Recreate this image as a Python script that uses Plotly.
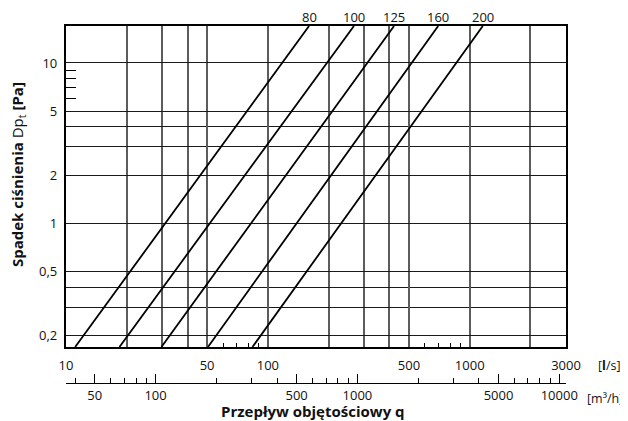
import numpy as np
import plotly.graph_objects as go

# ---- data ----
diameters = [80, 100, 125, 160, 200]
dp_edges = [0.17, 17.0]                       # Dp [Pa] at bottom / top edge of the plot
q_at_bottom = [11.1, 18.4, 29.7, 50.5, 83.9]   # l/s where each line leaves the bottom edge
q_at_top = [160, 267, 422, 698, 1161]          # l/s where each line reaches the top edge

x_label_vals = [10, 50, 100, 500, 1000, 3000]
x_grid_extra = [20, 30, 40, 200, 300, 400, 2000]
x_small_ticks = [60, 70, 80, 90, 600, 700, 800, 900]
y_label_vals = [0.2, 0.5, 1, 2, 5, 10]
y_label_text = ['0,2', '0,5', '1', '2', '5', '10']
y_grid_extra = [0.3, 0.4, 3, 4]
y_small_ticks = [6, 7, 8, 9]
m3h_major = [50, 100, 500, 1000, 5000, 10000]
m3h_minor = [40, 60, 70, 80, 90, 200, 300, 400, 600, 700, 800, 900,
             2000, 3000, 4000, 6000, 7000, 8000, 9000]
LS_TO_M3H = 3.6

FONT = "Open Sans"
TXT = "#111"
fig = go.Figure()

for d, qb, qt in zip(diameters, q_at_bottom, q_at_top):
    fig.add_trace(go.Scatter(x=[qb, qt], y=dp_edges, mode="lines",
                             line=dict(color="black", width=1.8),
                             showlegend=False, hoverinfo="skip"))
    fig.add_annotation(x=np.log10(qt), xref="x", y=1, yref="paper", yshift=9,
                       text=str(d), showarrow=False, xanchor="center", yanchor="middle",
                       font=dict(family=FONT, size=13, color=TXT))

# invisible traces carrying the helper axes
fig.add_trace(go.Scatter(x=[100, 1000], y=[1, 1], xaxis="x2", yaxis="y",
                         mode="markers", marker=dict(opacity=0),
                         showlegend=False, hoverinfo="skip"))
fig.add_trace(go.Scatter(x=[100, 1000], y=[1, 1], xaxis="x3", yaxis="y2",
                         mode="markers", marker=dict(opacity=0),
                         showlegend=False, hoverinfo="skip"))

xmin, xmax = 10, 3000
xr = [np.log10(xmin), np.log10(xmax)]
yr = [np.log10(dp_edges[0]), np.log10(dp_edges[1])]

fig.update_layout(
    width=620, height=413,
    margin=dict(l=58, r=62.3, t=18, b=38.3),
    paper_bgcolor="white", plot_bgcolor="white",
    font=dict(family=FONT, size=13, color=TXT),
    xaxis=dict(type="log", range=xr, anchor="y",
               showline=True, mirror=True, linecolor="black", linewidth=2.2,
               showgrid=True, gridcolor="#5c5c5c", gridwidth=1.6,
               tickmode="array", tickvals=x_label_vals,
               ticktext=[str(v) for v in x_label_vals],
               ticks="", zeroline=False, automargin=False, ticklabelstandoff=5,
               minor=dict(tickmode="array", tickvals=x_grid_extra, ticks="",
                          showgrid=True, gridcolor="#5c5c5c", gridwidth=1.6)),
    xaxis3=dict(type="log", range=xr, anchor="y", overlaying="x", side="bottom",
                showline=False, showgrid=False, zeroline=False, automargin=False,
                tickmode="array", tickvals=x_small_ticks, showticklabels=False,
                ticks="inside", ticklen=4, tickwidth=1.2, tickcolor="black"),
    xaxis2=dict(type="log", range=[np.log10(xmin * LS_TO_M3H), np.log10(xmax * LS_TO_M3H)],
                anchor="free", position=0, overlaying="x", side="bottom",
                showline=True, linecolor="black", linewidth=1.3,
                showgrid=False, zeroline=False, automargin=False,
                tickmode="array", tickvals=m3h_major,
                ticktext=[str(v) for v in m3h_major],
                ticks="inside", ticklen=9, tickwidth=1.2, tickcolor="black",
                minor=dict(tickmode="array", tickvals=m3h_minor, ticks="inside",
                           ticklen=4.5, tickwidth=1.2, tickcolor="black", showgrid=False)),
    yaxis=dict(type="log", range=yr, domain=[0.1009, 1], anchor="x",
               showline=True, mirror=True, linecolor="black", linewidth=2.2,
               showgrid=True, gridcolor="#1a1a1a", gridwidth=1.4,
               tickmode="array", tickvals=y_label_vals, ticktext=y_label_text,
               ticks="", zeroline=False, automargin=False, ticklabelstandoff=4,
               minor=dict(tickmode="array", tickvals=y_grid_extra, ticks="",
                          showgrid=True, gridcolor="#1a1a1a", gridwidth=1.4)),
    yaxis2=dict(type="log", range=yr, overlaying="y", anchor="x", side="left",
                showline=False, showgrid=False, zeroline=False, automargin=False,
                tickmode="array", tickvals=y_small_ticks, showticklabels=False,
                ticks="inside", ticklen=10, tickwidth=1.2, tickcolor="black"),
)

# axis titles and units
fig.add_annotation(x=-0.0961, xref="paper", y=0.585, yref="paper", textangle=-90,
                   xanchor="center", yanchor="middle",
                   text="<b>Spadek ciśnienia</b> Dp<sub>t</sub> <b>[Pa]</b>",
                   showarrow=False, font=dict(family=FONT, size=15, color=TXT))
fig.add_annotation(x=0.493, xref="paper", y=-0.0775, yref="paper",
                   xanchor="center", yanchor="middle", borderpad=0,
                   text="<b>Przepływ objętościowy q</b>", showarrow=False,
                   font=dict(family=FONT, size=15, color=TXT))
fig.add_annotation(x=1.0607, xref="paper", xanchor="left", y=0.0496, yref="paper",
                   yanchor="middle", text="[<b>l</b>/s]", showarrow=False,
                   font=dict(family=FONT, size=12.5, color=TXT))
fig.add_annotation(x=1.0386, xref="paper", xanchor="left", y=-0.043, yref="paper",
                   yanchor="middle", text="[m³/h]", showarrow=False,
                   font=dict(family=FONT, size=12.5, color=TXT))

fig.write_html("out.html")
